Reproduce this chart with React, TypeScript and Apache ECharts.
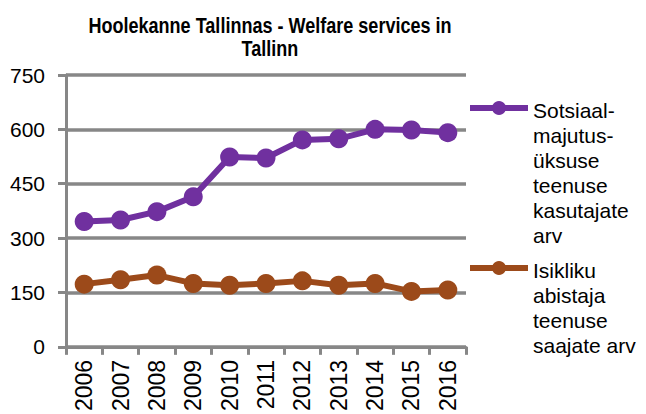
import React, { useEffect, useRef } from "react";
import * as echarts from "echarts";

const years = ["2006", "2007", "2008", "2009", "2010", "2011", "2012", "2013", "2014", "2015", "2016"];
const socialHousing = [346, 350, 373, 414, 524, 521, 571, 574, 600, 598, 591];
const personalAssistant = [173, 185, 198, 175, 170, 175, 182, 170, 175, 153, 157];
const seriesNames = ["Sotsiaalmajutusüksuse teenuse kasutajate arv", "Isikliku abistaja teenuse saajate arv"];
const legendLabels = [
  "Sotsiaal-\nmajutus-\nüksuse\nteenuse\nkasutajate\narv",
  "Isikliku\nabistaja\nteenuse\nsaajate arv",
];
const colors = ["#70309F", "#9C4A1A"];
const titleLines = ["Hoolekanne Tallinnas - Welfare services in", "Tallinn"];

const FONT = "'Liberation Sans', Arial, sans-serif";

export default function App() {
  const ref = useRef<HTMLDivElement>(null);
  useEffect(() => {
    if (!ref.current) return;
    const chart = echarts.init(ref.current, null, { renderer: "svg" });
    const legendY = [108, 268];
    const graphic: any[] = [];
    titleLines.forEach((t, i) => {
      graphic.push({
        type: "text",
        x: 270,
        y: 25 + i * 23,
        scaleX: 0.82,
        style: {
          text: t,
          fontFamily: FONT,
          fontSize: 22,
          fontWeight: "bold",
          fill: "#000",
          align: "center",
          verticalAlign: "middle",
        },
      });
    });
    legendLabels.forEach((lab, i) => {
      graphic.push({
        type: "line",
        shape: { x1: 470, y1: legendY[i], x2: 528, y2: legendY[i] },
        style: { stroke: colors[i], lineWidth: 6 },
      });
      graphic.push({
        type: "circle",
        shape: { cx: 499, cy: legendY[i], r: 7 },
        style: { fill: colors[i] },
      });
      graphic.push({
        type: "text",
        x: 533,
        y: legendY[i] - 10,
        style: {
          text: lab,
          fontFamily: FONT,
          fontSize: 21,
          lineHeight: 25,
          fill: "#000",
          align: "left",
          verticalAlign: "top",
        },
      });
    });
    chart.setOption({
      animation: false,
      backgroundColor: "#fff",
      grid: { left: 66, right: 180, top: 75, bottom: 64, containLabel: false },
      graphic,
      xAxis: {
        type: "category",
        data: years,
        boundaryGap: true,
        axisLine: { lineStyle: { color: "#878787", width: 3 } },
        axisTick: { show: true, length: 8, lineStyle: { color: "#878787", width: 3 } },
        axisLabel: {
          rotate: 90,
          margin: 13,
          color: "#000",
          fontFamily: FONT,
          fontSize: 23,
          interval: 0,
        },
      },
      yAxis: {
        type: "value",
        min: 0,
        max: 750,
        interval: 150,
        axisLine: { show: true, lineStyle: { color: "#878787", width: 3 } },
        axisTick: { show: true, length: 8, lineStyle: { color: "#878787", width: 3 } },
        splitLine: { show: true, lineStyle: { color: "#878787", width: 3.5 } },
        axisLabel: { margin: 21, color: "#000", fontFamily: FONT, fontSize: 21 },
      },
      series: [
        {
          name: seriesNames[0],
          type: "line",
          data: socialHousing,
          symbol: "circle",
          symbolSize: 19,
          lineStyle: { color: colors[0], width: 6 },
          itemStyle: { color: colors[0] },
        },
        {
          name: seriesNames[1],
          type: "line",
          data: personalAssistant,
          symbol: "circle",
          symbolSize: 19,
          lineStyle: { color: colors[1], width: 6 },
          itemStyle: { color: colors[1] },
        },
      ],
    });
    return () => chart.dispose();
  }, []);
  return <div ref={ref} style={{ width: 646, height: 414, position: "absolute", left: 0, top: 0 }} />;
}
